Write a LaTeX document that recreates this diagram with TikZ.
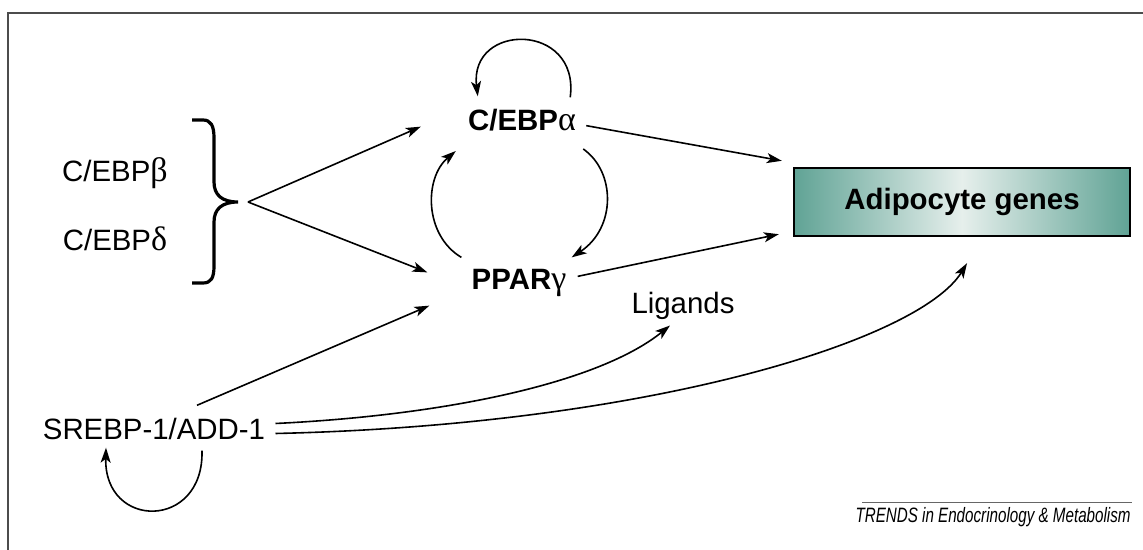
\documentclass[tikz,border=0pt]{standalone}
\usepackage{fontspec}
\setmainfont{Liberation Sans}
\newfontfamily\grk{Liberation Serif}
\usetikzlibrary{arrows.meta,calc}
\definecolor{tealedge}{RGB}{96,163,149}
\definecolor{tealmid}{RGB}{230,239,236}
\newcommand{\gk}[1]{{\mdseries\fontsize{17pt}{17pt}\grk #1}}

\begin{document}
\begin{tikzpicture}[x=0.5pt,y=-0.5pt]
    \tikzset{font={\fontsize{14.7pt}{17pt}\selectfont},
      every node/.style={inner sep=0pt},
      arr/.style={-{Stealth[length=7.5pt,width=5pt,inset=1.9pt]},line width=.8pt},
      bf/.style={font={\fontsize{14.7pt}{17pt}\selectfont\bfseries}}}
    \useasboundingbox (0,0) rectangle (1143,550);
    \draw[line width=1.4pt,black!70] (8,550)--(8,13)--(1143,13);
    % factors
    \node[anchor=base] (cebpb) at (115,182) {C/EBP\gk{β}};
    \node[anchor=base] (cebpd) at (115,250) {C/EBP\gk{δ}};
    \node[bf,anchor=base] (cebpa) at (522,131) {C/EBP\gk{α}};
    \node[bf,anchor=base] (ppar) at (519,290) {PPAR\gk{γ}};
    \node[anchor=base] (lig) at (683,313) {Ligands};
    \node[anchor=base] (srebp) at (154,439) {SREBP-1/ADD-1};
    \node[bf,draw,line width=1.2pt,minimum width=168pt,minimum height=34pt,
      left color=tealedge,right color=tealedge,middle color=tealmid]
      (genes) at (962,202) {Adipocyte genes};
    % brace
    \draw[line width=1.6pt] (192,120)--(203,120) .. controls (211,120) and (214,126) .. (214,138)
      --(214,182) .. controls (214,195) and (222,202) .. (238,202)
      .. controls (222,202) and (214,209) .. (214,222)
      --(214,266) .. controls (214,278) and (211,283) .. (203,283)--(192,283);
    \coordinate (fan) at (248,202);
    \draw[arr] (fan)--($(cebpa.west)+(-47,6)$);
    \draw[arr] (fan)--($(ppar.north west)+(-44,3)$);
    % loops
    \draw[arr] ($(cebpa.north east)+(-6,-12)$) .. controls (580,22) and (469,22) .. ($(cebpa.north west)+(10,-13)$);
    \draw[arr] ($(ppar.north west)+(-10,-12)$) .. controls (424,235) and (424,178) .. ($(cebpa.south west)+(-12,19)$);
    \draw[arr] ($(cebpa.south east)+(7,17)$) .. controls (616,172) and (616,228) .. ($(ppar.north east)+(5,-12)$);
    \draw[arr] ($(srebp.south)+(48,11)$) .. controls (204,530) and (104,530) .. ($(srebp.south)+(-48,8)$);
    % to genes
    \draw[arr] ($(cebpa.east)+(10,5)$)--($(genes.north west)+(-11,-6)$);
    \draw[arr] ($(ppar.north east)+(11,7)$)--($(genes.south west)+(-14,-3)$);
    \draw[arr] ($(srebp.north)+(43,-12)$)--($(ppar.south west)+(-42,8)$);
    \draw[arr] ($(srebp.east)+(10,-5)$) .. controls (450,415) and (600,382) .. ($(lig.south)+(-13,6)$);
    \draw[arr] ($(srebp.east)+(10,5)$) .. controls (650,425) and (920,340) .. ($(genes.south)+(5,26)$);
    % journal
    \draw[black!60,line width=.5pt] (862,502)--(1132,502);
    \node[anchor=base east,font={\fontsize{10.4pt}{12pt}\selectfont\itshape}] (trends) at (1131,522)
      {\scalebox{0.73}[1]{TRENDS in Endocrinology \& Metabolism}};
\end{tikzpicture}
\end{document}
